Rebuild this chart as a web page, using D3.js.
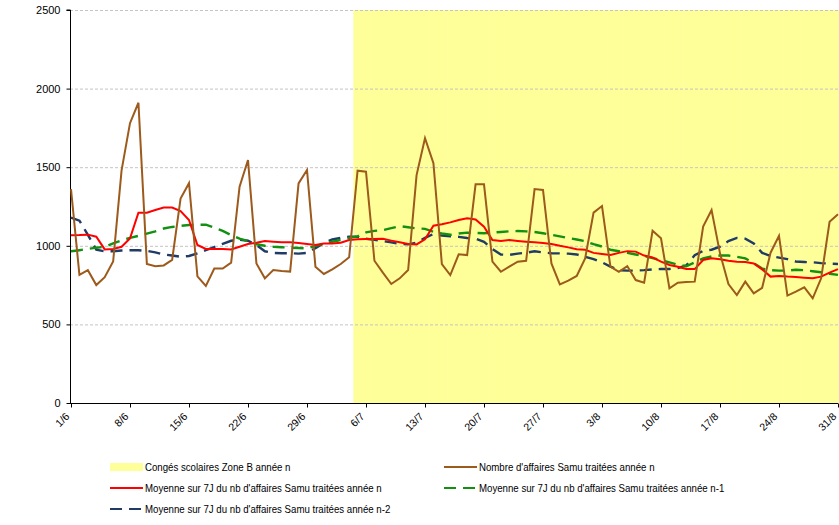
<!DOCTYPE html>
<html><head><meta charset="utf-8">
<script src="https://cdn.jsdelivr.net/npm/d3@7/dist/d3.min.js"></script>
<style>body{margin:0;background:#fff}svg{display:block}</style>
</head><body><svg id="c" width="839" height="525"></svg>
<script>
// Categories: days from 1 June to 31 August
const days = [
"1/6","2/6","3/6","4/6","5/6","6/6","7/6","8/6","9/6","10/6","11/6","12/6","13/6","14/6","15/6","16/6","17/6","18/6","19/6","20/6","21/6","22/6","23/6","24/6","25/6","26/6","27/6","28/6","29/6","30/6",
"1/7","2/7","3/7","4/7","5/7","6/7","7/7","8/7","9/7","10/7","11/7","12/7","13/7","14/7","15/7","16/7","17/7","18/7","19/7","20/7","21/7","22/7","23/7","24/7","25/7","26/7","27/7","28/7","29/7","30/7","31/7",
"1/8","2/8","3/8","4/8","5/8","6/8","7/8","8/8","9/8","10/8","11/8","12/8","13/8","14/8","15/8","16/8","17/8","18/8","19/8","20/8","21/8","22/8","23/8","24/8","25/8","26/8","27/8","28/8","29/8","30/8","31/8"];

// Tick labels shown on the x axis
const xTickLabels = ["1/6","8/6","15/6","22/6","29/6","6/7","13/7","20/7","27/7","3/8","10/8","17/8","24/8","31/8"];
const yTicks = [0, 500, 1000, 1500, 2000, 2500];

// School holidays (Zone B): first and last day
const holidayStart = "5/7";
const holidayEnd = "31/8";

// Nombre d'affaires Samu traitées année n
const dailyN = [1360,815,845,750,800,900,1480,1780,1910,885,
870,875,910,1300,1398,805,745,855,855,893,
1376,1546,888,793,846,840,836,1397,1482,867,
821,850,884,927,1478,1471,905,829,757,793,
846,1450,1684,1525,884,814,946,941,1391,1391,
899,835,867,899,905,1361,1355,888,755,778,
808,920,1211,1253,867,835,871,782,765,1096,
1048,729,765,770,772,1122,1228,952,757,687,
772,698,733,956,1064,683,708,736,666,793,
1153,1200];

// Moyenne sur 7J année n
const avgN = [1067,1068,1071,1058,977,980,994,1047,1211,1211,
1228,1243,1243,1221,1164,1005,980,980,980,977,
994,1011,1020,1031,1026,1022,1022,1018,1011,1005,
1015,1015,1020,1037,1041,1043,1044,1045,1033,1022,
1011,1009,1041,1128,1137,1149,1164,1175,1168,1122,
1037,1031,1037,1031,1026,1022,1018,1012,1000,990,
978,975,955,948,941,955,966,963,938,926,
899,878,867,852,852,910,920,914,905,899,
897,888,850,804,808,804,802,797,793,804,
829,852];

// Moyenne sur 7J année n-1
const avgN1 = [965,972,980,988,993,1015,1035,1050,1063,1078,
1092,1110,1120,1127,1132,1134,1134,1115,1095,1068,
1045,1030,1010,1000,994,991,988,986,984,1000,
1012,1026,1037,1050,1060,1085,1095,1100,1112,1125,
1118,1111,1108,1090,1078,1070,1078,1084,1082,1080,
1085,1088,1092,1094,1092,1088,1080,1070,1060,1050,
1040,1030,1010,995,975,965,955,945,935,922,
908,895,880,870,895,920,932,938,938,930,
920,890,855,845,842,842,848,845,838,832,
822,815];

// Moyenne sur 7J année n-2
const avgN2 = [1180,1160,1070,975,965,965,970,972,972,968,
958,945,938,930,935,952,972,992,1012,1032,
1038,1032,1005,965,955,953,953,950,955,985,
1018,1040,1050,1058,1058,1045,1038,1030,1022,1012,
1009,1020,1050,1075,1065,1060,1057,1050,1045,1025,
980,945,942,950,956,965,958,953,952,950,
945,930,915,895,868,845,842,842,845,850,
852,852,858,875,940,968,975,995,1030,1050,
1045,1015,955,935,925,915,900,897,895,890,
887,884];

const legendLabels = [
  "Congés scolaires Zone B année n",
  "Nombre d'affaires Samu traitées année n",
  "Moyenne sur 7J du nb d'affaires Samu traitées année n",
  "Moyenne sur 7J du nb d'affaires Samu traitées année n-1",
  "Moyenne sur 7J du nb d'affaires Samu traitées année n-2"
];

const svg = d3.select("#c");
const pL = 70, pR = 838, pT = 10, pB = 403;
const x = d3.scalePoint().domain(days).range([71, 838]);
const step = x.step();
const y = d3.scaleLinear().domain([0, 2500]).range([pB, pT]);

svg.append("defs").append("clipPath").attr("id","clip")
  .append("rect").attr("x", pL).attr("y", pT).attr("width", pR - pL + 1).attr("height", pB - pT);

// Holiday band
const i0 = days.indexOf(holidayStart), i1 = days.indexOf(holidayEnd);
const hol = days.slice(i0, i1 + 1);
svg.append("g").attr("clip-path","url(#clip)").selectAll("rect").data(hol).join("rect")
  .attr("x", d => x(d) - step/2).attr("width", step + 0.6)
  .attr("y", y(2500)).attr("height", y(0) - y(2500))
  .attr("fill", "#FFFF99");

// Gridlines
svg.append("g").selectAll("line").data(yTicks.filter(v => v > 0)).join("line")
  .attr("x1", pL).attr("x2", pR).attr("y1", d => y(d) + 0.5).attr("y2", d => y(d) + 0.5)
  .attr("stroke", "#c4c4c4").attr("stroke-width", 1).attr("stroke-dasharray", "3,2");

// Y axis
const yAxis = d3.axisLeft(y).tickValues(yTicks).tickSize(4).tickPadding(6).tickFormat(d3.format("d"));
const gy = svg.append("g").attr("transform", `translate(${pL + 0.5},0)`).call(yAxis);
gy.select(".domain").attr("stroke", "#000").attr("d", `M-4,${pT}H0V${pB}`);
gy.selectAll(".tick line").attr("stroke", "#000");
gy.selectAll("text").attr("font-family", "Liberation Sans, Arial, sans-serif").attr("font-size", 11).attr("fill", "#000");

// X axis
const xAxis = d3.axisBottom(x).tickValues(xTickLabels).tickSize(4).tickPadding(2);
const gx = svg.append("g").attr("transform", `translate(0,${pB + 0.5})`).call(xAxis);
gx.select(".domain").attr("stroke", "#000").attr("d", `M${pL},0H${pR}`);
gx.selectAll(".tick line").attr("stroke", "#000");
gx.selectAll("text")
  .attr("font-family", "Liberation Sans, Arial, sans-serif").attr("font-size", 10.5).attr("fill", "#000")
  .attr("text-anchor", "end").attr("dy", "0.35em")
  .attr("transform", "translate(-4,11) rotate(-45)").attr("y", 0).attr("x", 0);

// Lines
const lineGen = arr => d3.line().x((d, i) => x(days[i])).y(d => y(d))(arr);
const g = svg.append("g").attr("clip-path", "url(#clip)");
g.append("path").attr("d", lineGen(avgN2)).attr("fill","none").attr("stroke","#1F3B66").attr("stroke-width",2.4).attr("stroke-dasharray","12,7");
g.append("path").attr("d", lineGen(avgN1)).attr("fill","none").attr("stroke","#129012").attr("stroke-width",2.4).attr("stroke-dasharray","12,7");
g.append("path").attr("d", lineGen(avgN)).attr("fill","none").attr("stroke","#FF0000").attr("stroke-width",2);
g.append("path").attr("d", lineGen(dailyN)).attr("fill","none").attr("stroke","#9C5A1C").attr("stroke-width",2);

// Legend
const lg = svg.append("g").attr("font-family", "Liberation Sans Narrow, Arial Narrow, Liberation Sans, Arial, sans-serif").attr("font-size", 11.5);
const items = [
  {t: legendLabels[0], x: 110, y: 467, type: "rect"},
  {t: legendLabels[1], x: 444, y: 467, type: "line", c: "#9C5A1C", dash: null},
  {t: legendLabels[2], x: 110, y: 488, type: "line", c: "#FF0000", dash: null},
  {t: legendLabels[3], x: 444, y: 488, type: "line", c: "#129012", dash: "12,7"},
  {t: legendLabels[4], x: 110, y: 509, type: "line", c: "#1F3B66", dash: "12,7"}
];
items.forEach(it => {
  if (it.type === "rect") {
    lg.append("rect").attr("x", it.x).attr("y", it.y - 4).attr("width", 33).attr("height", 8).attr("fill", "#FFFF99");
  } else {
    lg.append("line").attr("x1", it.x).attr("x2", it.x + 33).attr("y1", it.y).attr("y2", it.y)
      .attr("stroke", it.c).attr("stroke-width", 2).attr("stroke-dasharray", it.dash);
  }
  it.node = lg.append("text").attr("x", it.x + 35).attr("y", it.y).attr("dy", "0.35em").attr("fill", "#000").text(it.t);
});
// condense text to match the narrow font width in the reference
const refW = items[2].node.node().getComputedTextLength();
const k = 237 / refW;
items.forEach(it => {
  const tx = it.x + 35;
  it.node.attr("transform", `translate(${tx},0) scale(${k},1) translate(${-tx},0)`);
});
</script></body></html>
